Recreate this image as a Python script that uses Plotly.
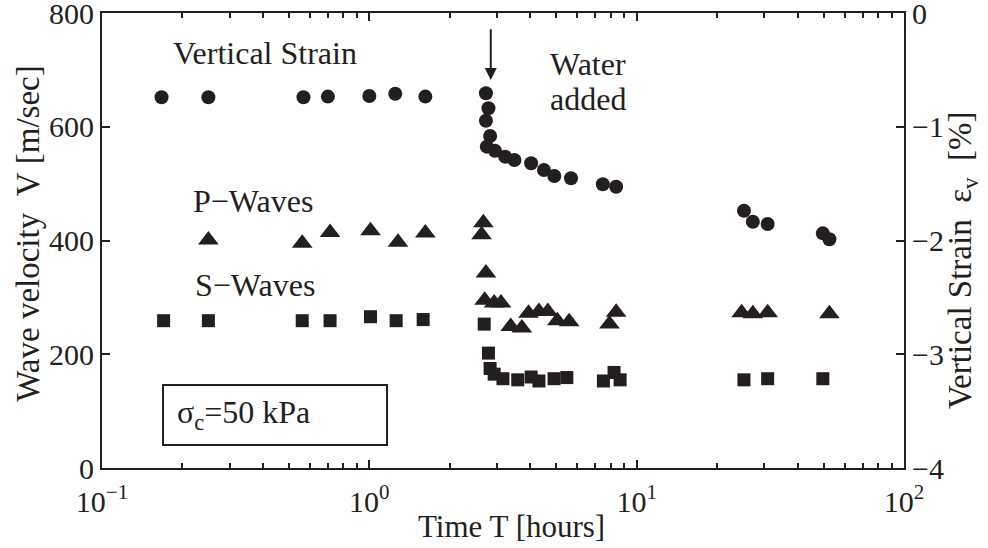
import plotly.graph_objects as go

# Elapsed time [hours] and measurements for each series
t_strain = [0.167, 0.25, 0.567, 0.70, 1.0, 1.25, 1.62,
            2.73, 2.79, 2.73, 2.83, 2.75, 2.95, 3.22, 3.49, 4.03, 4.50, 4.92, 5.68,
            7.47, 8.38, 25.2, 27.2, 30.9, 49.7, 52.6]
strain = [-0.74, -0.74, -0.74, -0.735, -0.73, -0.71, -0.735,
          -0.706, -0.838, -0.947, -1.081, -1.175, -1.211, -1.263, -1.292, -1.321, -1.380, -1.433, -1.453,
          -1.506, -1.527, -1.738, -1.835, -1.855, -1.937, -1.989]

t_p = [0.25, 0.561, 0.713, 1.01, 1.28, 1.62,
       2.67, 2.63, 2.73, 2.70, 2.93, 3.11, 3.38, 3.72, 3.94, 4.31, 4.65, 5.05, 5.59,
       7.91, 8.38, 24.7, 27.2, 30.9, 52.6]
v_p = [401, 395, 414, 417, 397, 413,
       431, 410, 343, 295, 290, 290, 249, 246, 272, 275, 275, 259, 257,
       253, 274, 273, 271, 273, 271]

t_s = [0.17, 0.25, 0.561, 0.713, 1.01, 1.26, 1.59,
       2.69, 2.79, 2.83, 2.93, 3.16, 3.59, 4.03, 4.31, 4.91, 5.48,
       7.51, 8.23, 8.67, 25.2, 30.9, 49.7]
v_s = [259, 259, 259, 259, 266, 259, 261,
       253, 202, 175, 165, 157, 155, 160, 153, 157, 159,
       153, 168, 155, 155, 157, 157]

x_ticks = [0.1, 1, 10, 100]
x_ticktext = ["10<sup>−1</sup>", "10<sup>0</sup>", "10<sup>1</sup>", "10<sup>2</sup>"]
x_minor = [m * 10 ** e for e in (-1, 0, 1) for m in range(2, 10)]
v_ticks = [0, 200, 400, 600, 800]
strain_ticks = [-4, -3, -2, -1, 0]

INK = "#231f20"
SERIF = "Liberation Serif, Times New Roman, serif"
NB = "\u00a0"

fig = go.Figure()

fig.add_trace(go.Scatter(
    x=t_strain, y=strain, mode="markers", yaxis="y2", name="Vertical Strain",
    marker=dict(symbol="circle", size=14, color=INK),
))
fig.add_trace(go.Scatter(
    x=t_p, y=v_p, mode="markers", name="P-Waves",
    marker=dict(symbol="triangle-up", size=18, color=INK),
))
fig.add_trace(go.Scatter(
    x=t_s, y=v_s, mode="markers", name="S-Waves",
    marker=dict(symbol="square", size=13, color=INK),
))

axis_common = dict(
    showline=True, linewidth=2, linecolor=INK,
    ticks="inside", tickwidth=1.5, tickcolor=INK,
    showgrid=False, zeroline=False,
    automargin=False,
    ticklabeloverflow="allow",
    tickfont=dict(family=SERIF, size=30, color=INK),
)

fig.update_layout(
    width=988, height=548,
    margin=dict(l=102, r=84, t=13, b=80, autoexpand=False),
    paper_bgcolor="white", plot_bgcolor="white",
    showlegend=False,
    font=dict(family=SERIF, color=INK),
    xaxis=dict(
        type="log", range=[-1, 2],
        tickvals=x_ticks, ticktext=x_ticktext, ticklen=8,
        ticklabelstandoff=6,
        mirror="ticks",
        minor=dict(tickvals=x_minor, ticks="inside", ticklen=5, tickwidth=1.5, tickcolor=INK, showgrid=False),
        **axis_common,
    ),
    yaxis=dict(
        range=[0, 800], tickvals=v_ticks, ticklen=8,
        **axis_common,
    ),
    yaxis2=dict(
        range=[-4, 0], tickvals=strain_ticks, ticklen=8,
        overlaying="y", side="right",
        **axis_common,
    ),
)

# Box around the confining stress label
fig.add_shape(type="rect", xref="paper", yref="paper",
              x0=0.0761, x1=0.3554, y0=0.0505, y1=0.1824,
              line=dict(color=INK, width=2), fillcolor="rgba(0,0,0,0)")

def label(text, x, y, size=32, xanchor="left", angle=0):
    fig.add_annotation(text=text, xref="paper", yref="paper", x=x, y=y,
                       xanchor=xanchor, yanchor="middle", showarrow=False,
                       textangle=angle, font=dict(family=SERIF, size=size, color=INK))

label("Vertical Strain", 0.086, 0.912)
label("P−Waves", 0.1106, 0.587)
label("S−Waves", 0.1138, 0.402)
label("Water", 0.5557, 0.888)
label("added", 0.5557, 0.811)
label("σ<sub>c</sub>=50 kPa", 0.0915, 0.118, size=32)

# Axis titles
label("Time T [hours]", 0.5106, -0.1275, size=31, xanchor="center")
label(f"Wave velocity{NB}{NB}V{NB}[m/sec]", -0.0923, 0.515, size=33, xanchor="center", angle=-90)
label(f"Vertical Strain{NB}{NB}ε<sub>v</sub>{NB}{NB}[%]", 1.0723, 0.457, size=33, xanchor="center", angle=-90)

# Arrow marking when water was added
fig.add_annotation(x=0.4542, y=682, ax=0.4542, ay=774, xref="x", yref="y", axref="x", ayref="y",
                   text="", showarrow=True, arrowhead=2, arrowsize=1.2, arrowwidth=2, arrowcolor=INK)

fig.write_html("out.html")
